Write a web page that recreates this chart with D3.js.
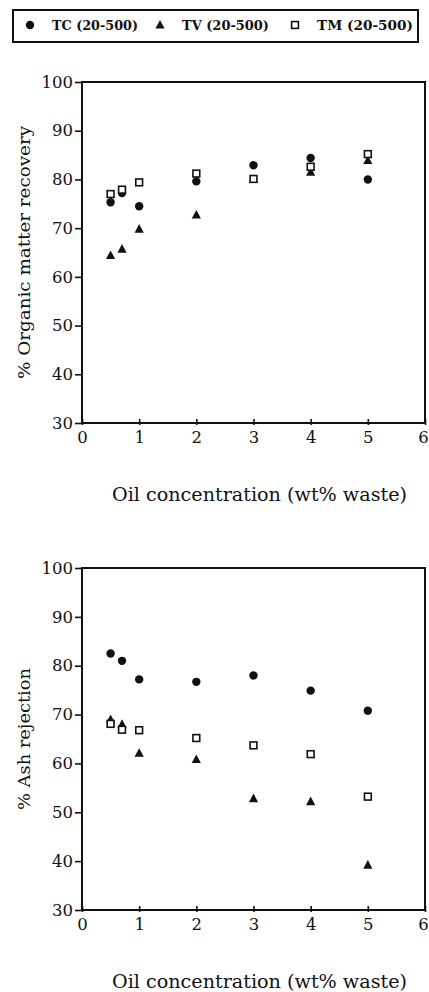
<!DOCTYPE html>
<html>
<head>
<meta charset="utf-8">
<script src="https://cdn.jsdelivr.net/npm/d3@7"></script>
<style>
  body { margin: 0; background: #fff; }
</style>
</head>
<body>
<div id="canvas"></div>
<script>
// data
const oil = [0.5, 0.7, 1, 2, 3, 4, 5];
const omrTC = [75.3, 77.2, 74.5, 79.6, 82.9, 84.4, 80.0];
const omrTV = [64.4, 65.7, 69.8, 72.7, 80.0, 81.5, 83.9];
const omrTM = [77.0, 77.9, 79.4, 81.2, 80.1, 82.6, 85.2];
const ashTC = [82.5, 81.0, 77.2, 76.7, 78.0, 74.9, 70.8];
const ashTV = [69.0, 68.0, 62.1, 60.8, 52.8, 52.2, 39.2];
const ashTM = [68.1, 66.9, 66.8, 65.2, 63.7, 61.9, 53.2];
const seriesNames = ["TC (20-500)", "TV (20-500)", "TM (20-500)"];
const xTicks = [0, 1, 2, 3, 4, 5, 6];
const yTicks = [30, 40, 50, 60, 70, 80, 90, 100];

const width = 429;
const height = 992;
const serif = "'DejaVu Serif', 'Liberation Serif', serif";

const svg = d3.select("#canvas").append("svg")
    .attr("width", width)
    .attr("height", height);

// marker drawing
function marker(sel, kind) {
    if (kind === 0) {
        sel.append("circle").attr("r", 4.2).style("fill", "#111");
    } else if (kind === 1) {
        sel.append("path").attr("d", "M0,-5L4.6,3.6L-4.6,3.6Z").style("fill", "#111");
    } else {
        sel.append("rect").attr("x", -3.4).attr("y", -3.4)
            .attr("width", 6.8).attr("height", 6.8)
            .style("fill", "#fff").style("stroke", "#111").style("stroke-width", 1.6);
    }
}

// legend
const leg = svg.append("g");
leg.append("rect")
    .attr("x", 13).attr("y", 10).attr("width", 405).attr("height", 32)
    .style("fill", "none").style("stroke", "#111").style("stroke-width", 2);
const legX = [30, 160, 295];
const legW = [86, 87, 96];
seriesNames.forEach((name, i) => {
    const g = leg.append("g").attr("transform", `translate(${legX[i]},25)`);
    marker(g, i);
    leg.append("text")
        .attr("x", legX[i] + 22).attr("y", 30)
        .attr("textLength", legW[i]).attr("lengthAdjust", "spacingAndGlyphs")
        .style("font-family", serif)
        .style("font-size", "12.5px").style("font-weight", "bold").style("fill", "#111")
        .text(name);
});

function panel(top, bottom, ySeries, yTitle, yTitleLen) {
    const left = 82, right = 425;
    const x = d3.scaleLinear().domain([0, 6]).range([left, right]);
    const y = d3.scaleLinear().domain([30, 100]).range([bottom, top]);

    const g = svg.append("g");

    // frame
    g.append("rect")
        .attr("x", left).attr("y", top)
        .attr("width", right - left).attr("height", bottom - top)
        .style("fill", "none").style("stroke", "#111").style("stroke-width", 2);

    const ya = g.append("g")
        .attr("transform", `translate(${left},0)`)
        .call(d3.axisLeft(y).tickValues(yTicks).tickFormat(d3.format("d")).tickSize(7).tickPadding(2));
    ya.select(".domain").remove();
    ya.selectAll("line").style("stroke", "#111").style("stroke-width", 1.6);
    ya.selectAll("text").style("font-size", "16.5px").style("fill", "#111")
        .style("font-family", serif);

    const xa = g.append("g")
        .attr("transform", `translate(0,${bottom})`)
        .call(d3.axisBottom(x).tickValues(xTicks).tickFormat(d3.format("d")).tickSize(0).tickPadding(8));
    xa.select(".domain").remove();
    xa.selectAll("line").attr("y1", -4).attr("y2", 2)
        .style("stroke", "#111").style("stroke-width", 1.6);
    xa.selectAll("text").style("font-size", "16.5px").style("fill", "#111")
        .style("font-family", serif);
    // keep the last label inside the page edge
    xa.selectAll("text").filter(d => d === 6).attr("x", -2);

    g.append("text")
        .attr("x", 112).attr("y", bottom + 78)
        .attr("textLength", 295).attr("lengthAdjust", "spacingAndGlyphs")
        .style("font-family", serif).style("fill", "#111")
        .style("font-size", "18px")
        .text("Oil concentration (wt% waste)");

    g.append("text")
        .attr("transform", `translate(30,${(top + bottom) / 2 + yTitleLen / 2}) rotate(-90)`)
        .attr("textLength", yTitleLen).attr("lengthAdjust", "spacingAndGlyphs")
        .style("font-family", serif).style("fill", "#111")
        .style("font-size", "17px")
        .text(yTitle);

    ySeries.forEach((vals, k) => {
        oil.forEach((o, i) => {
            const m = g.append("g").attr("transform", `translate(${x(o)},${y(vals[i])})`);
            marker(m, k);
        });
    });
}

panel(82, 423, [omrTC, omrTV, omrTM], "% Organic matter recovery", 253);
panel(568, 910, [ashTC, ashTV, ashTM], "% Ash rejection", 142);
</script>
</body>
</html>
